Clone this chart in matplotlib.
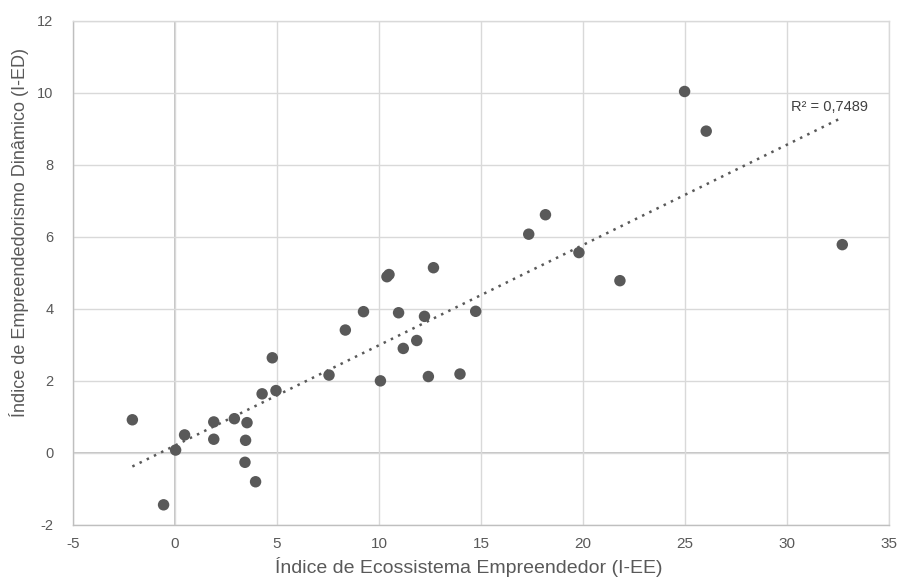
import numpy as np
import matplotlib
matplotlib.use("Agg")
import matplotlib.pyplot as plt

plt.rcParams["axes.unicode_minus"] = False
plt.rcParams["font.family"] = ["Liberation Sans", "DejaVu Sans"]

# Índice de Ecossistema Empreendedor (I-EE) vs Índice de Empreendedorismo Dinâmico (I-ED)
i_ee = [-2.09, -0.56, 0.03, 0.47, 1.90, 1.90, 2.91, 3.53, 3.46, 3.43, 3.95, 4.27, 4.95,
        4.77, 7.55, 8.35, 9.24, 10.07, 10.39, 10.49, 10.96, 11.19, 11.85, 12.23, 12.42,
        12.67, 13.97, 14.74, 17.34, 18.16, 19.80, 21.81, 24.98, 26.04, 32.71]
i_ed = [0.92, -1.44, 0.08, 0.50, 0.86, 0.38, 0.95, 0.84, 0.35, -0.26, -0.80, 1.64, 1.73,
        2.64, 2.16, 3.41, 3.92, 2.00, 4.89, 4.95, 3.89, 2.90, 3.12, 3.79, 2.12,
        5.14, 2.19, 3.93, 6.07, 6.61, 5.56, 4.78, 10.03, 8.93, 5.78]
r2_label = "R² = 0,7489"

x_ticks = list(range(-5, 36, 5))
y_ticks = list(range(-2, 13, 2))

dark = "#595959"
grid_c = "#d9d9d9"
zero_c = "#bfbfbf"

fig = plt.figure(figsize=(8.99, 5.85), dpi=100)
ax = fig.add_axes([73 / 899, 60 / 585, 816 / 899, 504.5 / 585])

ax.set_xlim(-5, 35)
ax.set_ylim(-2, 12)
ax.set_xticks(x_ticks)
ax.set_yticks(y_ticks)
ax.grid(True, color=grid_c, linewidth=1.0, zorder=0)
ax.axvline(0, color=zero_c, linewidth=1.3, zorder=1)
ax.axhline(0, color=zero_c, linewidth=1.3, zorder=1)
for s in ax.spines.values():
    s.set_color(grid_c)
    s.set_linewidth(1.0)
ax.spines["left"].set_color(zero_c)
ax.spines["bottom"].set_color(zero_c)
ax.tick_params(axis="x", length=0, pad=9, colors=dark, labelsize=11)
ax.tick_params(axis="y", length=0, pad=14, colors=dark, labelsize=10.5)

# linear trend line
x = np.array(i_ee)
y = np.array(i_ed)
slope, intercept = np.polyfit(x, y, 1)
xt = np.array([x.min(), x.max()])
ax.plot(xt, slope * xt + intercept, linestyle=(0, (1, 2.2)), color=dark,
        linewidth=1.8, zorder=2)

ax.scatter(i_ee, i_ed, s=68, color=dark, edgecolors="none", zorder=3)

ax.text(30.2, 9.6, r2_label, fontsize=10.5, color="#404040", va="center")

ax.set_xlabel("Índice de Ecossistema Empreendedor (I-EE)", fontsize=14, color=dark)
ax.xaxis.set_label_coords(0.485, -0.0835, transform=ax.transAxes)
ax.xaxis.label.set_va("center")
ax.set_ylabel("Índice de Empreendedorismo Dinâmico (I-ED)", fontsize=13, color=dark)
ax.yaxis.set_label_coords(-0.066, 0.58, transform=ax.transAxes)
ax.yaxis.label.set_va("center")

fig.savefig("out.png", dpi=100)
